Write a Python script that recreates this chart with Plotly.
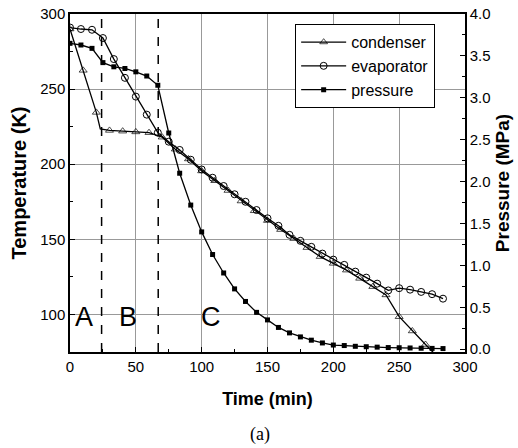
import plotly.graph_objects as go

# condenser temperature (K), roughly every 10 min
cond_t = [0, 10, 20, 23, 30, 40, 50, 60, 70, 80, 90, 100, 110, 120, 130, 140,
          150, 160, 170, 180, 190, 200, 210, 220, 230, 240, 250, 260, 270, 280]
cond_T = [290, 262.5, 234.5, 223.5, 222.5, 222, 221.5, 221, 218, 210, 203.5,
          195.5, 189, 182.5, 175.5, 169, 162.5, 156.5, 150.5, 144.5, 138.5,
          134, 129.5, 124, 118.5, 113, 98.5, 89, 80, 71]
cond_size = [7, 7, 7, 0] + [7] * 26

# evaporator temperature (K) and pressure (MPa), every 500 s
evap_t = [0, 8.3, 16.7, 25, 33.3, 41.7, 50, 58.3, 66.7, 75, 83.3, 91.7, 100,
          108.3, 116.7, 125, 133.3, 141.7, 150, 158.3, 166.7, 175, 183.3,
          191.7, 200, 208.3, 216.7, 225, 233.3, 241.7, 250, 258.3, 266.7,
          275, 283.3]
evap_T = [291, 290, 289.5, 284, 270, 257.5, 245, 233, 221, 215, 209.5, 203,
          196.5, 191, 185.5, 180, 175, 169.5, 164, 159, 153, 149, 145, 140.5,
          136.5, 133, 128.5, 124.5, 120.5, 116, 117.5, 116.5, 115, 113.5, 110.5]
press = [3.65, 3.63, 3.59, 3.42, 3.37, 3.35, 3.31, 3.26, 3.15, 2.58, 2.10,
         1.72, 1.40, 1.13, 0.91, 0.72, 0.57, 0.44, 0.35, 0.26, 0.195, 0.147,
         0.108, 0.075, 0.05, 0.044, 0.035, 0.03, 0.025, 0.02, 0.018, 0.015,
         0.012, 0.01, 0.008]

# stage boundaries (min) and stage labels
stage_lines = [24, 67]
stage_names = ["A", "B", "C"]
stage_pos = [11, 44, 107]

fig = go.Figure()
fig.add_trace(go.Scatter(
    x=cond_t, y=cond_T, name="condenser", mode="lines+markers",
    line=dict(color="black", width=1.3),
    marker=dict(symbol="triangle-up-open", size=cond_size, color="black",
                line=dict(width=1))))
fig.add_trace(go.Scatter(
    x=evap_t, y=evap_T, name="evaporator", mode="lines+markers",
    line=dict(color="black", width=1.3),
    marker=dict(symbol="circle-open", size=7, color="black",
                line=dict(width=1))))
fig.add_trace(go.Scatter(
    x=evap_t, y=press, name="pressure", mode="lines+markers", yaxis="y2",
    line=dict(color="black", width=1.3),
    marker=dict(symbol="square", size=5, color="black")))

for xv in stage_lines:
    fig.add_shape(type="line", x0=xv, x1=xv, y0=0, y1=1, xref="x",
                  yref="paper", line=dict(color="black", width=1.5,
                                          dash="dash"))
for name, xv in zip(stage_names, stage_pos):
    fig.add_annotation(x=xv, y=98, text=name, showarrow=False,
                       font=dict(size=27, color="black"))

fig.add_annotation(x=0.48, y=-0.245, xref="paper", yref="paper", text="(a)",
                   showarrow=False, yanchor="middle",
                   font=dict(family="Liberation Serif", size=18,
                             color="black"))

axis_common = dict(showline=True, linecolor="black", linewidth=1.5,
                   ticks="inside", ticklen=5, tickcolor="black",
                   tickfont=dict(size=15, color="black"), zeroline=False)

fig.update_layout(
    width=518, height=448,
    margin=dict(l=70, r=53, t=14, b=96, autoexpand=False),
    paper_bgcolor="white", plot_bgcolor="white",
    font=dict(family="Liberation Sans, Arial", color="black"),
    showlegend=True,
    legend=dict(x=0.57, y=0.97, xanchor="left", yanchor="top",
                bgcolor="white", bordercolor="black", borderwidth=1,
                font=dict(size=16), itemwidth=45, tracegroupgap=0),
    xaxis=dict(range=[0, 300], dtick=50, mirror=True,
               showgrid=True, gridcolor="#999", gridwidth=1,
               minor=dict(dtick=25, ticks="inside", ticklen=3,
                          tickcolor="black", showgrid=False),
               title=dict(text="<b>Time (min)</b>", font=dict(size=18),
                          standoff=19),
               **axis_common),
    yaxis=dict(range=[75, 300], tick0=100, dtick=50,
               showgrid=True, gridcolor="#999", gridwidth=1,
               minor=dict(dtick=25, ticks="inside", ticklen=3,
                          tickcolor="black", showgrid=False),
               title=dict(text="<b>Temperature (K)</b>", font=dict(size=20),
                          standoff=8),
               **axis_common),
    yaxis2=dict(range=[-0.033, 4.0], dtick=0.5, tickformat=".1f",
                overlaying="y", side="right", showgrid=False,
                minor=dict(dtick=0.25, ticks="inside", ticklen=3,
                           tickcolor="black"),
                title=dict(text="<b>Pressure (MPa)</b>", font=dict(size=19),
                           standoff=6),
                **axis_common),
)

fig.write_html("out.html", config={"displayModeBar": False},
               post_script="document.body.style.margin='0';")
